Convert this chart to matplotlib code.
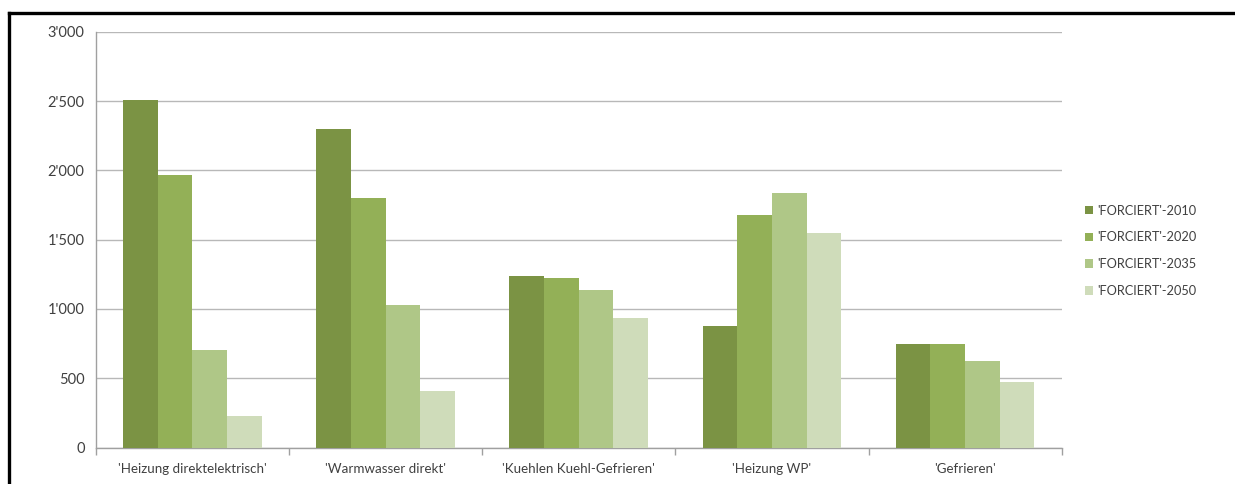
import matplotlib
matplotlib.use("Agg")
import matplotlib.pyplot as plt
from matplotlib.lines import Line2D
from matplotlib.ticker import FuncFormatter, MultipleLocator
import numpy as np

plt.rcParams['font.family'] = ['Lato', 'DejaVu Sans']

categories = ["'Heizung direktelektrisch'", "'Warmwasser direkt'",
              "'Kuehlen Kuehl-Gefrieren'", "'Heizung WP'", "'Gefrieren'"]
series_names = ["'FORCIERT'-2010", "'FORCIERT'-2020",
                "'FORCIERT'-2035", "'FORCIERT'-2050"]
values_2010 = [2510, 2300, 1240, 880, 750]
values_2020 = [1965, 1800, 1220, 1680, 745]
values_2035 = [705, 1030, 1140, 1835, 625]
values_2050 = [230, 410, 935, 1545, 475]
series_values = [values_2010, values_2020, values_2035, values_2050]
colors = ['#7B9344', '#93B057', '#AFC787', '#CFDCBA']

fig = plt.figure(figsize=(12.35, 4.84), dpi=100)
ax = fig.add_axes([0.0775, 0.0754, 0.7822, 0.8591])

x = np.arange(len(categories))
bar_w = 0.1795
offsets = (np.arange(4) - 1.5) * bar_w
for vals, off, col, name in zip(series_values, offsets, colors, series_names):
    ax.bar(x + off, vals, width=bar_w, color=col, label=name,
           edgecolor='none', zorder=3)

ax.set_xlim(-0.5, len(categories) - 0.5)
ax.set_ylim(0, 3000)
ax.yaxis.set_major_locator(MultipleLocator(500))
ax.yaxis.set_major_formatter(
    FuncFormatter(lambda v, _: f"{int(v):,}".replace(",", "'")))
ax.grid(axis='y', color='#B8B8B8', linewidth=1.0, zorder=0)
ax.set_axisbelow(True)

# category labels at centres, tick marks at the category boundaries
ax.set_xticks(x)
ax.set_xticklabels(categories)
ax.set_xticks(np.arange(len(categories) + 1) - 0.5, minor=True)
ax.tick_params(axis='x', which='major', length=0, pad=11,
               labelsize=9.6, labelcolor='#404040')
ax.tick_params(axis='x', which='minor', length=5, width=1, color='#A0A0A0')
ax.tick_params(axis='y', length=0, pad=8, labelsize=10.5, labelcolor='#404040')

for side in ('top', 'right'):
    ax.spines[side].set_visible(False)
for side in ('left', 'bottom'):
    ax.spines[side].set_color('#A0A0A0')
    ax.spines[side].set_linewidth(1.0)

leg = fig.legend(loc='center left', bbox_to_anchor=(0.869, 0.482),
                 frameon=False, fontsize=9.2, handlelength=0.65,
                 handleheight=0.65, handletextpad=0.35, labelspacing=1.15,
                 labelcolor='#404040')

# frame lines along top and left edge
fig.add_artist(Line2D([9 / 1235, 1.0], [1 - 13 / 484, 1 - 13 / 484],
                      color='black', linewidth=2.4,
                      transform=fig.transFigure))
fig.add_artist(Line2D([9 / 1235, 9 / 1235], [0.0, 1 - 13 / 484],
                      color='black', linewidth=2.4,
                      transform=fig.transFigure))

fig.savefig('out.png', dpi=100, facecolor='white')
